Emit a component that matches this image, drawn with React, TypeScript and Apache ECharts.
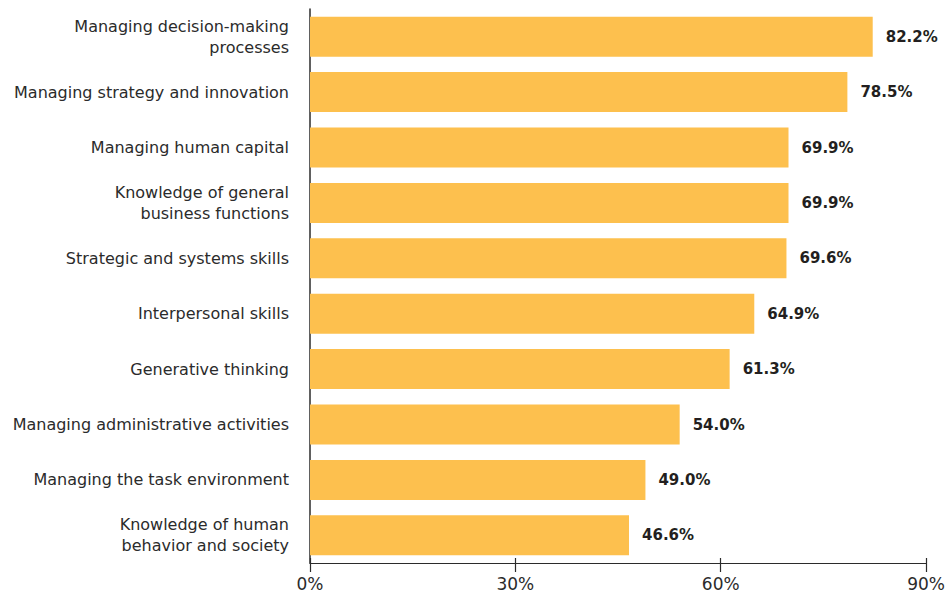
import React, { useEffect, useRef } from "react";
import * as echarts from "echarts";

const categories = [
  "Managing decision-making\nprocesses",
  "Managing strategy and innovation",
  "Managing human capital",
  "Knowledge of general\nbusiness functions",
  "Strategic and systems skills",
  "Interpersonal skills",
  "Generative thinking",
  "Managing administrative activities",
  "Managing the task environment",
  "Knowledge of human\nbehavior and society",
];
const values = [82.2, 78.5, 69.9, 69.9, 69.6, 64.9, 61.3, 54.0, 49.0, 46.6];
const xTicks = [0, 30, 60, 90];

const FONT = "'DejaVu Sans', sans-serif";

export default function App() {
  const ref = useRef<HTMLDivElement>(null);
  useEffect(() => {
    if (!ref.current) return;
    const chart = echarts.init(ref.current, undefined, { renderer: "svg" });
    const xAxisBase = {
      type: "value" as const,
      min: xTicks[0],
      max: xTicks[xTicks.length - 1],
      interval: 30,
      splitLine: { show: false },
    };
    chart.setOption({
      animation: false,
      grid: { left: 310, right: 19, top: 9, bottom: 35, containLabel: false },
      xAxis: [
        {
          ...xAxisBase,
          position: "bottom",
          axisLine: { show: true, lineStyle: { color: "#2b2b2b", width: 1.2 } },
          axisTick: { show: true, inside: false, length: 9, lineStyle: { color: "#2b2b2b", width: 1.2 } },
          axisLabel: {
            formatter: (v: number) => `${v}%`,
            fontFamily: FONT,
            fontSize: 17,
            color: "#2b2b2b",
            margin: 12,
          },
        },
        {
          ...xAxisBase,
          position: "bottom",
          gridIndex: 0,
          axisLine: { show: false },
          axisTick: { show: true, inside: true, length: 5, lineStyle: { color: "#2b2b2b", width: 1.2 } },
          axisLabel: { show: false },
        },
      ],
      yAxis: {
        type: "category",
        data: categories,
        inverse: true,
        axisLine: { show: true, lineStyle: { color: "#2b2b2b", width: 1.5 } },
        axisTick: { show: false },
        axisLabel: {
          fontFamily: FONT,
          fontSize: 16,
          color: "#2b2b2b",
          margin: 21,
          lineHeight: 21,
          align: "right",
          padding: [0, 0, 3, 0],
        },
      },
      series: [
        {
          type: "bar",
          data: values,
          barWidth: 40,
          itemStyle: { color: "#FDC04E" },
          label: {
            show: true,
            position: "right",
            distance: 13,
            formatter: (p: any) => `${p.value.toFixed(1)}%`,
            fontFamily: FONT,
            fontSize: 15,
            fontWeight: "bold",
            color: "#231f20",
          },
        },
      ],
    });
    return () => chart.dispose();
  }, []);
  return <div ref={ref} style={{ width: 948, height: 598, position: "absolute", left: 0, top: 0 }} />;
}
